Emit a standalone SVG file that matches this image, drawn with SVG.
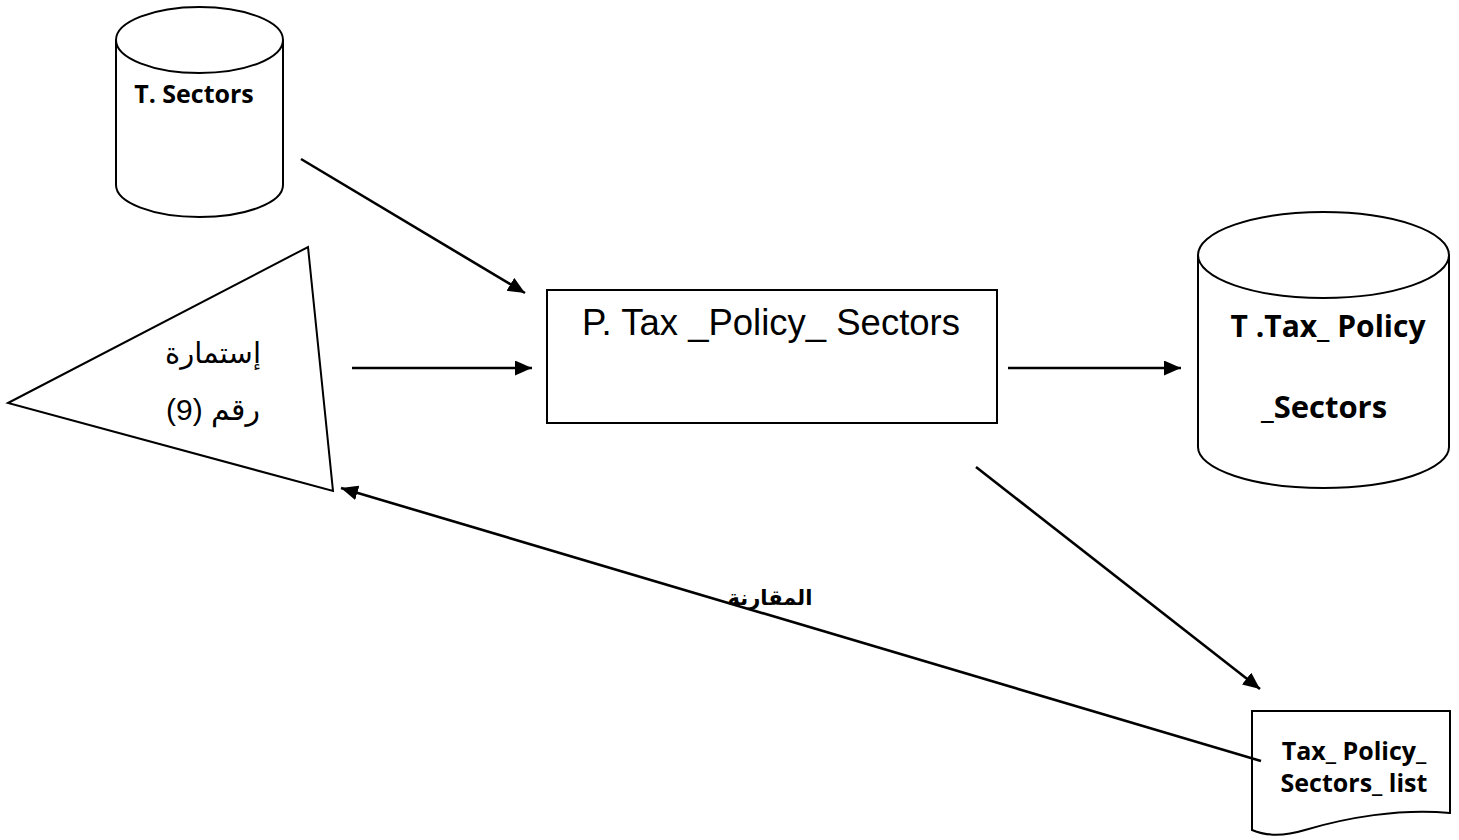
<svg xmlns="http://www.w3.org/2000/svg" width="1459" height="840" viewBox="0 0 1459 840">
<style>
.shape{fill:#fff;stroke:#000;stroke-width:2}
.conn{fill:none;stroke:#000;stroke-width:2.6}
.cal{font-family:"Open Sans","Liberation Sans",sans-serif;font-weight:bold;fill:#000;text-anchor:middle}
.ar{font-family:"Liberation Sans","DejaVu Sans",sans-serif;fill:#000;text-anchor:middle}
</style>
<defs>
<marker id="ah" markerUnits="userSpaceOnUse" markerWidth="18" markerHeight="16" refX="17" refY="7.5" orient="auto">
<path d="M0,0 L17,7.5 L0,15 Z" fill="#000"/>
</marker>
</defs>
<rect width="1459" height="840" fill="#fff"/>
<g id="t-sectors">
<path class="shape" d="M116,40 L116,185 A83.5,32 0 0 0 283,185 L283,40"/>
<ellipse class="shape" cx="199.5" cy="40" rx="83.5" ry="33"/>
<text class="cal" x="194" y="103" font-size="25">T. Sectors</text>
</g>
<g id="form9">
<path class="shape" d="M8,403 L308,247 L333,491 Z"/>
<text class="ar" x="213" y="363" font-size="29" direction="rtl">إستمارة</text>
<text class="ar" x="213" y="420" font-size="30" direction="rtl">رقم (9)</text>
</g>
<g id="p-tax-policy-sectors">
<rect class="shape" x="547" y="290" width="450" height="133"/>
<text class="ar" x="771" y="335" font-size="36.5">P. Tax _Policy_ Sectors</text>
</g>
<g id="t-tax-policy-sectors">
<path class="shape" d="M1198,255 L1198,447 A125.5,41 0 0 0 1449,447 L1449,255"/>
<ellipse class="shape" cx="1323.5" cy="255" rx="125.5" ry="43"/>
<text class="cal" x="1328" y="337" font-size="30">T .Tax_ Policy</text>
<text class="cal" x="1324" y="418" font-size="31">_Sectors</text>
</g>
<g id="tax-policy-sectors-list">
<path class="shape" d="M1252,711 L1450,711 L1450,813 C1400,808 1345,818 1305,830 C1285,836 1268,837 1252,830 Z"/>
<text class="cal" x="1354" y="760" font-size="25">Tax_ Policy_</text>
<text class="cal" x="1354" y="792" font-size="25">Sectors_ list</text>
</g>
<g id="connectors">
<line class="conn" x1="301" y1="159" x2="525" y2="293" marker-end="url(#ah)"/>
<line class="conn" x1="352" y1="368" x2="532" y2="368" marker-end="url(#ah)"/>
<line class="conn" x1="1008" y1="368" x2="1181" y2="368" marker-end="url(#ah)"/>
<line class="conn" x1="976" y1="467" x2="1260" y2="689" marker-end="url(#ah)"/>
<line class="conn" x1="1261" y1="761" x2="341" y2="488" marker-end="url(#ah)"/>
<text class="ar" x="770" y="605" font-size="21" font-weight="bold" direction="rtl">المقارنة</text>
</g>
</svg>
